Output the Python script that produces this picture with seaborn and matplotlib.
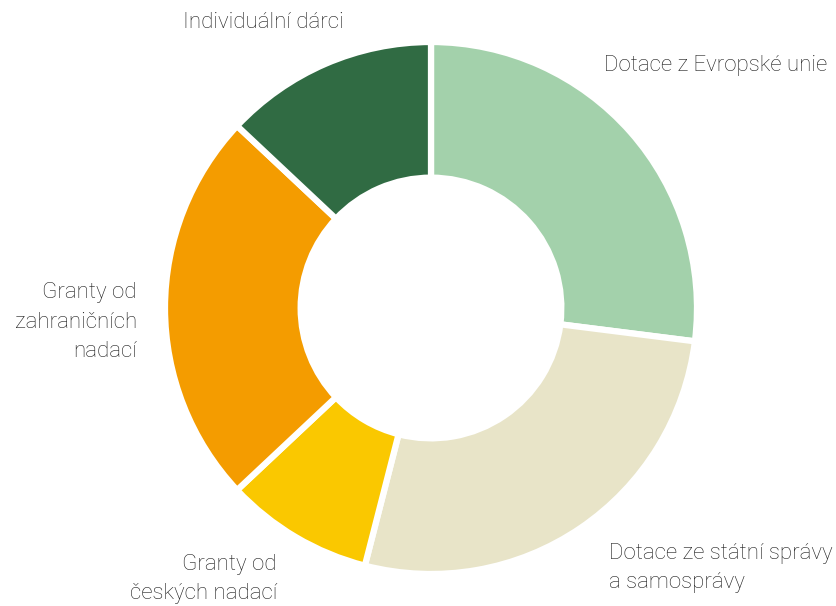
import matplotlib
matplotlib.use("Agg")
import matplotlib.pyplot as plt
import seaborn as sns

categories = ["Dotace z Evropské unie", "Dotace ze státní správy\na samosprávy",
              "Granty od\nčeských nadací", "Granty od\nzahraničních\nnadací",
              "Individuální dárci"]
values = [27, 27, 9, 24, 13]
colors = ["#a3d1ab", "#e8e4c8", "#fac800", "#f49c00", "#306b43"]

sns.set_style("white")
plt.rcParams['font.family'] = ['Roboto', 'DejaVu Sans']

W, H = 837, 606
CX, CY, R = 431, 308, 266
fig = plt.figure(figsize=(W / 100, H / 100), dpi=100)
ax = fig.add_axes([0, 0, 1, 1])

pal = sns.color_palette(colors)
ax.pie(values, colors=pal, startangle=90, counterclock=False, radius=1.0,
       wedgeprops=dict(width=0.51, edgecolor='white', linewidth=4.5))

ax.set_aspect('auto')
ax.set_xlim(-CX / R, (W - CX) / R)
ax.set_ylim(-(H - CY) / R, CY / R)
ax.axis('off')

def px(x, y):
    return (x - CX) / R, (CY - y) / R

tk = dict(fontsize=16, color='#1e1e1e', fontweight='light', linespacing=1.55)
ax.text(*px(604, 65), categories[0], ha='left', va='center', **tk)
ax.text(*px(609, 568), categories[1], ha='left', va='center', **tk)
ax.text(*px(277, 579), categories[2], ha='right', va='center', multialignment='right', **tk)
ax.text(*px(137, 322), categories[3], ha='right', va='center', multialignment='right', **tk)
ax.text(*px(263, 22), categories[4], ha='center', va='center', **tk)

fig.savefig("out.png", dpi=100, facecolor='white')
